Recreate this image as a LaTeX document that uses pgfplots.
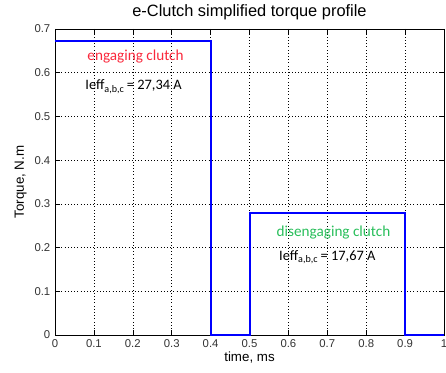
\documentclass[border=0pt]{standalone}
\usepackage{pgfplots}
\pgfplotsset{compat=1.18}
\usepackage{fontspec}
\setmainfont{Liberation Sans}
\newfontfamily\notefont{Carlito}
\definecolor{engred}{RGB}{250,40,60}
\definecolor{disgreen}{RGB}{40,190,90}
\definecolor{pulseblue}{RGB}{0,0,255}
\begin{document}
\begin{tikzpicture}
\begin{axis}[
  name=ax,
  scale only axis,
  width=291.75pt, height=229.5pt,
  xmin=0, xmax=1, ymin=0, ymax=0.7,
  xtick={0,0.1,...,1}, ytick={0,0.1,...,0.7},
  xticklabels={0,0.1,0.2,0.3,0.4,0.5,0.6,0.7,0.8,0.9,1},
  yticklabels={0,0.1,0.2,0.3,0.4,0.5,0.6,0.7},
  tick align=inside,
  tick style={black, thin},
  major tick length=3.5pt,
  grid=major,
  major grid style={black, dotted, line width=0.4pt},
  axis line style={black, line width=0.5pt},
  ticklabel style={font=\fontsize{8.5}{9}\selectfont, text=black!80},
  /pgf/number format/assume math mode=true,
  xlabel={time, ms}, ylabel={Torque, N.m},
  label style={font=\fontsize{10}{11}\selectfont},
  xlabel style={yshift=4pt},
  ylabel style={yshift=-1pt},
  title={e-Clutch simplified torque profile},
  title style={font=\fontsize{12.3}{13}\selectfont, yshift=-3pt},
  clip=false,
]
% torque steps: engaging pulse, pause, disengaging pulse
\addplot[pulseblue, line width=1.5pt, const plot] coordinates {
  (0,0.672) (0.4,0) (0.5,0.279) (0.9,0) (1,0)
};
\node[text=engred, font=\notefont\fontsize{11.4}{12}\selectfont] at (axis cs:0.207,0.636) {engaging clutch};
\node[font=\notefont\fontsize{10.8}{12}\selectfont] at (axis cs:0.202,0.568) {Ieff\textsubscript{a,b,c}\,= 27,34 A};
\node[text=disgreen, font=\notefont\fontsize{11.4}{12}\selectfont] at (axis cs:0.716,0.234) {disengaging clutch};
\node[font=\notefont\fontsize{10.8}{12}\selectfont] at (axis cs:0.70,0.178) {Ieff\textsubscript{a,b,c}\,= 17,67 A};
\end{axis}
\pgfresetboundingbox
\path ([xshift=-41.25pt,yshift=-28.5pt]ax.south west) rectangle ([xshift=1.5pt,yshift=21.75pt]ax.north east);
\end{tikzpicture}
\end{document}
